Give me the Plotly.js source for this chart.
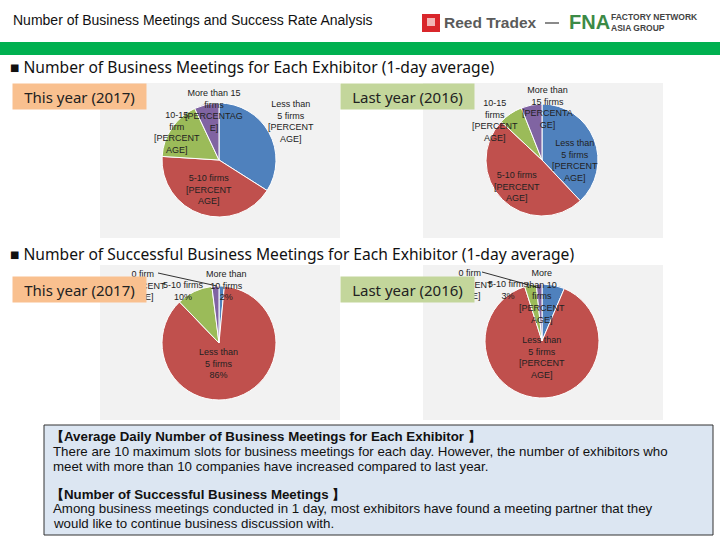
<!DOCTYPE html>
<html><head><meta charset="utf-8">
<script src="https://cdn.plot.ly/plotly-3.0.1.min.js"></script>
<style>html,body{margin:0;padding:0;background:#fff}#chart{width:720px;height:540px}</style>
</head><body><div id="chart"></div>
<script>
// ---------- DATA ----------
const meetCats2017 = ["Less than 5 firms", "5-10 firms", "10-15 firm", "More than 15 firms"];
const meetVals2017 = [34, 42, 17, 7];
const meetCats2016 = ["Less than 5 firms", "5-10 firms", "10-15 firms", "More than 15 firms"];
const meetVals2016 = [38, 49, 7, 6];
const succCats2017 = ["0 firm", "Less than 5 firms", "5-10 firms", "More than 10 firms"];
const succVals2017 = [1.5, 86.3, 10.2, 2.0];
const succCats2016 = ["0 firm", "Less than 5 firms", "5-10 firms", "More than 10 firms"];
const succVals2016 = [6.4, 88.7, 3.3, 1.6];
const sliceColors = ["#4F81BD", "#C0504D", "#9BBB59", "#8064A2"];

// ---------- HELPERS ----------
const W = 720, H = 540;
const X = x => x / W;
const Y = y => 1 - y / H;
function dom(cx, cy, r) { return { x: [X(cx - r), X(cx + r)], y: [Y(cy + r), Y(cy - r)] }; }
function pct(vals, i) { const s = vals.reduce((a, b) => a + b, 0); return Math.round(vals[i] / s * 100) + "%"; }
function pie(labels, values, d) {
  return { type: "pie", labels: labels, values: values, domain: d, sort: false, direction: "clockwise",
    rotation: 0, textinfo: "none", hoverinfo: "label+percent", showlegend: false,
    marker: { colors: sliceColors, line: { color: "#ffffff", width: 1 } } };
}
const data = [
  pie(meetCats2017, meetVals2017, dom(219, 160, 57)),
  pie(meetCats2016, meetVals2016, dom(542, 160, 56)),
  pie(succCats2017, succVals2017, dom(219, 343, 57)),
  pie(succCats2016, succVals2016, dom(542, 341, 57))
];

const P = "[PERCENT<br>AGE]";
const lblFont = { family: "Liberation Sans, Arial, sans-serif", size: 9, color: "#222" };
function lab(text, x, y) {
  return { text: text, x: X(x), y: Y(y), xref: "paper", yref: "paper", showarrow: false,
    xanchor: "center", yanchor: "middle", align: "center", font: lblFont };
}
const annotations = [];
// chart 1 labels
annotations.push(lab("More than 15<br>firms<br>[PERCENTAG<br>E]", 214, 111));
annotations.push(lab("10-15<br>firm<br>" + P, 177, 132));
annotations.push(lab("Less than<br>5 firms<br>" + P, 291, 122));
annotations.push(lab("5-10 firms<br>" + P, 209, 189));
// chart 2 labels
annotations.push(lab("More than<br>15 firms<br>[PERCENTA<br>GE]", 547, 108));
annotations.push(lab("10-15<br>firms<br>" + P, 495, 120));
annotations.push(lab("Less than<br>5 firms<br>" + P, 575, 160));
annotations.push(lab("5-10 firms<br>" + P, 517, 186));
// chart 3 labels
annotations.push(lab(succCats2017[0] + "<br>" + P, 143, 285));
annotations.push(lab(succCats2017[2] + "<br>" + pct(succVals2017, 2), 183, 291));
annotations.push(lab("More than<br>10 firms<br>" + pct(succVals2017, 3), 226, 285));
annotations.push(lab("Less than<br>5 firms<br>" + pct(succVals2017, 1), 219, 363));
// chart 4 labels
annotations.push(lab(succCats2016[0] + "<br>" + P, 470, 284));
annotations.push(lab(succCats2016[2] + "<br>" + pct(succVals2016, 2), 508, 290));
annotations.push(lab("More<br>than 10<br>firms<br>" + P, 542, 296));
annotations.push(lab("Less than<br>5 firms<br>" + P, 542, 357));

// year boxes (drawn after labels so they cover overlapping text)
function yearBox(text, x0, y0, color) {
  return { text: text, x: X(x0), y: Y(y0), xref: "paper", yref: "paper", showarrow: false,
    xanchor: "left", yanchor: "top", align: "center", width: 133, height: 25, borderpad: 0,
    bgcolor: color, font: { family: "Noto Sans, sans-serif", size: 15, color: "#222" } };
}
annotations.push(yearBox("This year (2017)", 12, 83, "#F9C08F"));
annotations.push(yearBox("Last year (2016)", 340, 83, "#C3D69B"));
annotations.push(yearBox("This year (2017)", 12, 276, "#F9C08F"));
annotations.push(yearBox("Last year (2016)", 340, 276, "#C3D69B"));

// header texts
function txt(text, x, y, font, opts) {
  return Object.assign({ text: text, x: X(x), y: Y(y), xref: "paper", yref: "paper", showarrow: false,
    xanchor: "left", yanchor: "middle", align: "left", font: font }, opts || {});
}
const hdrFont = { family: "Noto Sans, sans-serif", size: 15.6, color: "#111" };
annotations.push(txt("Number of Business Meetings and Success Rate Analysis", 11, 20,
  { family: "Liberation Sans, Arial, sans-serif", size: 14, color: "#111" }));
annotations.push(txt("■ Number of Business Meetings for Each Exhibitor (1-day average)", 8, 67, hdrFont));
annotations.push(txt("■ Number of Successful Business Meetings for Each Exhibitor (1-day average)", 8, 254, hdrFont));

// logo
annotations.push(txt("Reed Tradex", 442, 22, { family: "Liberation Sans, sans-serif", size: 15.5, color: "#5a5a5a", weight: "bold" }));
annotations.push(txt("FNA", 567, 22, { family: "Liberation Sans, sans-serif", size: 20, color: "#3C8A46", weight: "bold" }));
annotations.push(txt("FACTORY NETWORK<br>ASIA GROUP", 609, 22, { family: "Liberation Sans, sans-serif", size: 8.5, color: "#444", weight: "bold" }));

// bottom text box
const tb = { family: "Liberation Sans, Arial, sans-serif", size: 13.3, color: "#111" };
annotations.push(txt("<b>【Average Daily Number of Business Meetings for Each Exhibitor 】</b>", 49, 436, tb));
annotations.push(txt("There are 10 maximum slots for business meetings for each day. However, the number of exhibitors who", 51, 451, tb));
annotations.push(txt("meet with more than 10 companies have increased compared to last year.", 51, 466, tb));
annotations.push(txt("<b>【Number of Successful Business Meetings 】</b>", 49, 494, tb));
annotations.push(txt("Among business meetings conducted in 1 day, most exhibitors have found a meeting partner that they", 51, 509, tb));
annotations.push(txt("would like to continue business discussion with.", 51, 523, tb));

function rect(x0, y0, x1, y1, fill, line, layer) {
  return { type: "rect", xref: "paper", yref: "paper", x0: X(x0), x1: X(x1), y0: Y(y1), y1: Y(y0),
    fillcolor: fill, line: line || { width: 0 }, layer: layer || "below" };
}
function seg(x0, y0, x1, y1) {
  return { type: "line", xref: "paper", yref: "paper", x0: X(x0), x1: X(x1), y0: Y(y0), y1: Y(y1),
    line: { color: "#000", width: 0.8 }, layer: "above" };
}
const shapes = [
  rect(0, 42, 720, 55, "#00B050"),
  rect(100, 83, 340, 238, "#F2F2F2"),
  rect(423, 83, 663, 238, "#F2F2F2"),
  rect(100, 265, 340, 420, "#F2F2F2"),
  rect(423, 265, 663, 420, "#F2F2F2"),
  rect(44, 425, 713, 535, "#DCE6F2", { color: "#333", width: 1 }),
  rect(422, 14, 440, 32, "#D9262B", null, "above"),
  rect(427, 18, 435, 26, "#F2B6B6", null, "above"),
  rect(545, 22, 559, 24, "#8a8a8a", null, "above"),
  seg(158, 273, 217, 286),
  seg(482, 272, 540, 288)
];

const layout = {
  width: 720, height: 540, margin: { l: 0, r: 0, t: 0, b: 0 },
  paper_bgcolor: "#ffffff", plot_bgcolor: "#ffffff",
  shapes: shapes, annotations: annotations, showlegend: false
};
Plotly.newPlot("chart", data, layout, { displayModeBar: false, staticPlot: true });
</script></body></html>
